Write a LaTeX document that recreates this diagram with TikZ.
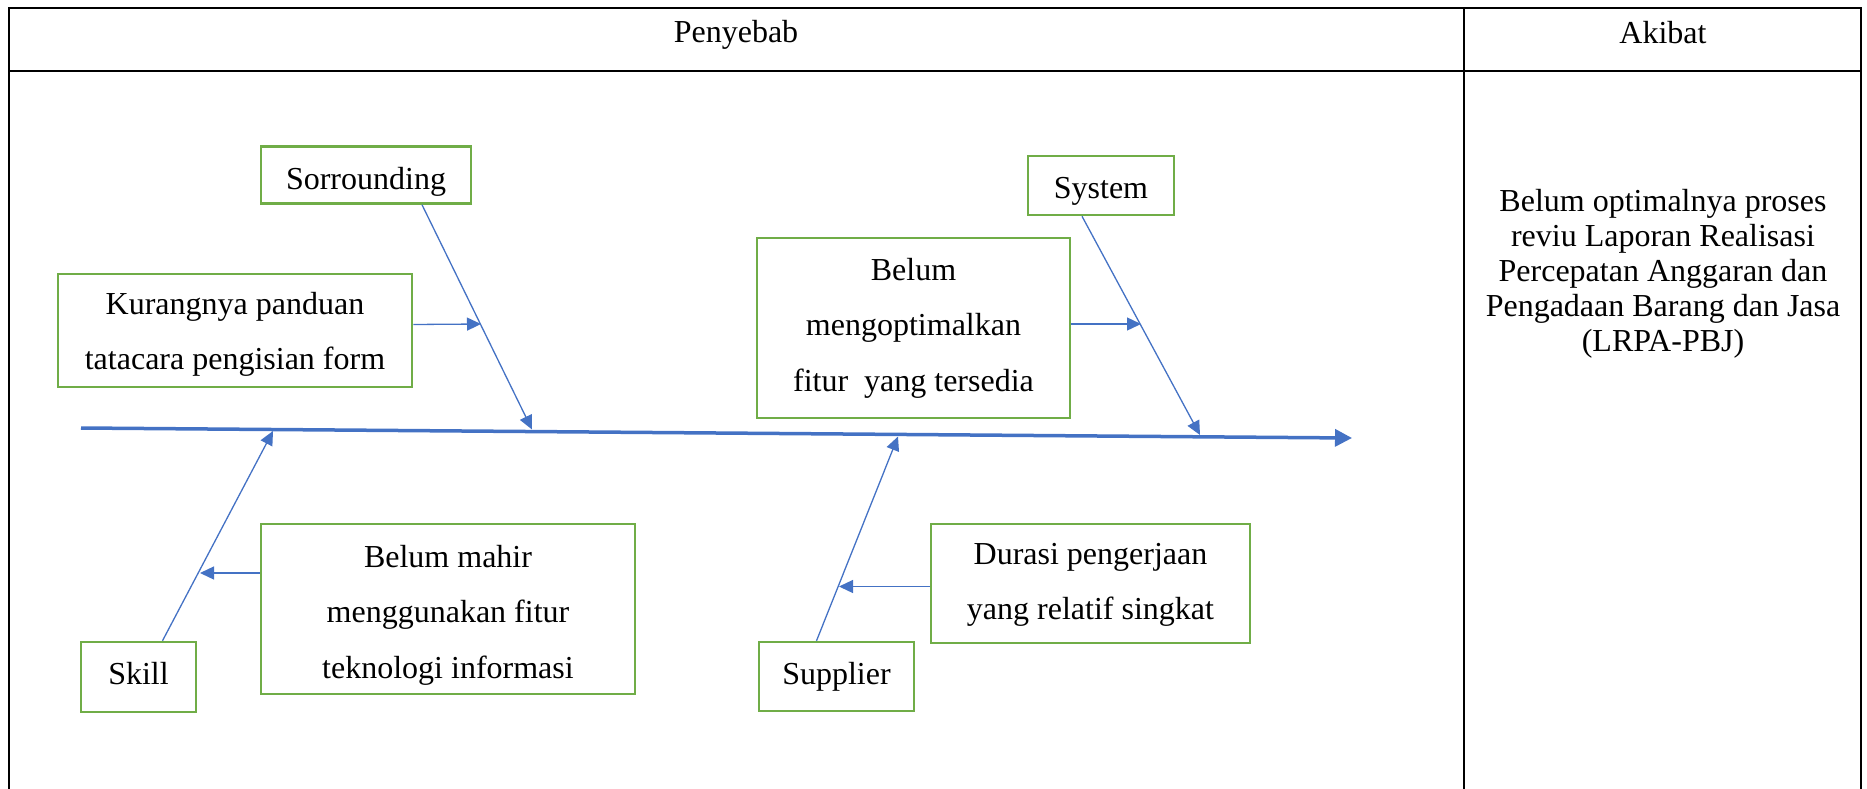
\documentclass[tikz,border=0pt]{standalone}
\usepackage{fontspec}
\setmainfont{Liberation Serif}
\usetikzlibrary{arrows.meta,calc}
\definecolor{obl}{HTML}{4472C4}
\definecolor{ogr}{HTML}{70AD47}
\newcommand\pushdn[1]{\rule{0pt}{#1}}
\begin{document}
\begin{tikzpicture}[x=1pt,y=-1pt,
  cbox/.style={draw=ogr,line width=2.5pt,inner sep=0pt,align=center,font=\fontsize{32}{55.5}\selectfont},
  bone/.style={draw=obl,line width=1.3pt,-{Triangle[length=14pt,width=13pt]}},
  spine/.style={draw=obl,line width=3.5pt,-{Triangle[length=17pt,width=17pt]}},
  gridline/.style={draw=black,line width=2.3pt},
  hdr/.style={font=\fontsize{32}{35}\selectfont,inner sep=0pt,align=center}]
\useasboundingbox (0,0) rectangle (1867,789);
% table
\draw[gridline] (9,789) -- (9,8) -- (1861,8) -- (1861,789);
\draw[gridline] (9,71) -- (1861,71);
\draw[gridline] (1464,8) -- (1464,789);
\node[hdr] (pen) at (736,34.5) {Penyebab};
\node[hdr] (aki) at (1663,33) {Akibat};
\node[hdr] (res) at (1663,274) {Belum optimalnya proses\\reviu Laporan Realisasi\\Percepatan Anggaran dan\\Pengadaan Barang dan Jasa\\(LRPA-PBJ)};
% boxes
\node[cbox,minimum width=210pt,minimum height=57pt] (sorr) at (366,175) {\pushdn{36pt}Sorrounding};
\node[cbox,minimum width=354pt,minimum height=113pt] (kur) at (235,330.5) {\pushdn{30pt}Kurangnya panduan\\tatacara pengisian form};
\node[cbox,minimum width=146pt,minimum height=59pt] (sys) at (1101,185.5) {\pushdn{32pt}System};
\node[cbox,minimum width=313pt,minimum height=180pt] (opt) at (913.5,328) {Belum\\mengoptimalkan\\fitur\ \ yang tersedia};
\node[cbox,minimum width=115pt,minimum height=70pt] (skill) at (138.5,677) {\rule[-7pt]{0pt}{7pt}Skill};
\node[cbox,minimum width=374pt,minimum height=170pt] (mahir) at (448,609) {\pushdn{34pt}Belum mahir\\menggunakan fitur\\teknologi informasi};
\node[cbox,minimum width=155pt,minimum height=69pt] (supp) at (836.5,676.5) {Supplier};
\node[cbox,minimum width=319pt,minimum height=119pt] (dur) at (1090.5,583.5) {\pushdn{24pt}Durasi pengerjaan\\yang relatif singkat};
% spine
\coordinate (spA) at (81,428);
\coordinate (spB) at (1352,438);
\draw[spine] (spA) -- (spB);
% bone end points
\coordinate (sp0) at (273,431);
\coordinate (sp1) at (532,429.5);
\coordinate (sp2) at (898,436.5);
\coordinate (sp4) at (1200,435);
\coordinate (k1) at (481,324);
\coordinate (o1) at (1141,324);
\coordinate (m1) at (200,573);
\coordinate (d1) at (839,586.5);
% bones
\draw[bone] ($(sorr.south)+(56,0)$) -- (sp1);
\draw[bone] ($(sys.south)+(-19,0)$) -- (sp4);
\draw[bone] ($(skill.north)+(24,0)$) -- (sp0);
\draw[bone] ($(supp.north)+(-20,0)$) -- (sp2);
% causes
\draw[bone] ($(kur.east)+(0,-6)$) -- (k1);
\draw[bone] ($(opt.east)+(0,-4)$) -- (o1);
\draw[bone] ($(mahir.west)+(0,-36)$) -- (m1);
\draw[bone] ($(dur.west)+(0,3)$) -- (d1);
\end{tikzpicture}
\end{document}
